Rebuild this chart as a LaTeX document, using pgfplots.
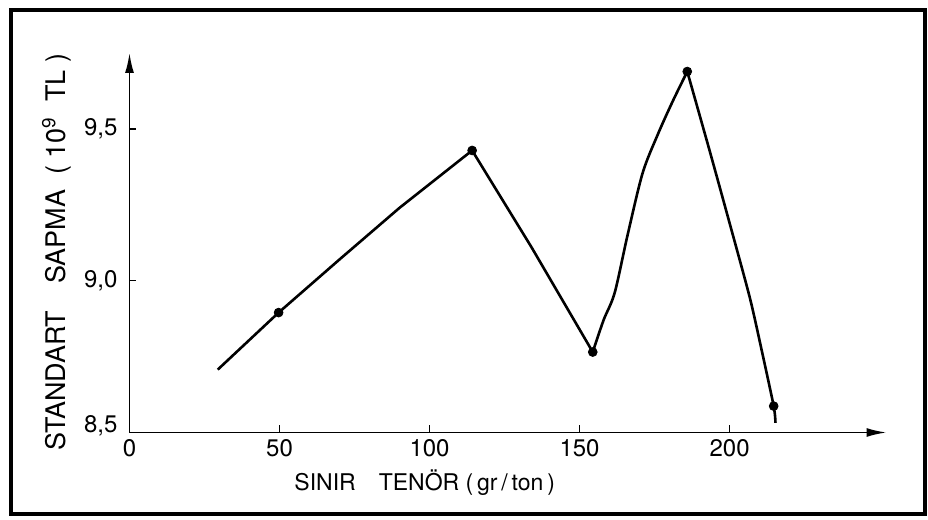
\documentclass[border=0pt]{standalone}
\usepackage{pgfplots}
\pgfplotsset{compat=1.18}
\usetikzlibrary{arrows.meta}
\usepackage{fontspec}
\setmainfont{TeX Gyre Heros}
\begin{document}
\begin{tikzpicture}
\begin{axis}[
    scale only axis,
    width=378.5pt, height=189.75pt,
    xmin=0, xmax=252.3,
    ymin=8.5, ymax=9.75,
    axis lines=left,
    axis line style={line width=0.9pt, -{Latex[length=10pt,width=4.5pt]}},
    xtick={0,50,100,150,200},
    xticklabels={0,50,100,150,200},
    ytick={8.5,9,9.5},
    yticklabels={{\raisebox{9pt}{8,5}},{9,0},{9,5}},
    tick align=inside,
    major tick length=3.5pt,
    tick style={line width=0.8pt, black},
    ticklabel style={font=\fontsize{12}{14}\selectfont},
    yticklabel style={xshift=-2.5pt},
    xlabel={SINIR\quad TENÖR\ (\,gr\,/\,ton\,)},
    ylabel={STANDART\quad SAPMA\ \ ( 10\textsuperscript{9} \ TL )},
    xlabel style={font=\fontsize{11.5}{13}\selectfont, at={(axis description cs:0.39,-0.133)}, anchor=center},
    ylabel style={font=\fontsize{13.5}{15}\selectfont, at={(axis description cs:-0.096,0.475)}, anchor=center},
    clip=false,
]
% curve, in pieces so that the corners stay sharp
\addplot[black, line width=1.3pt, line join=round] coordinates {
    (29.4,8.707)(49.7,8.895)(70,9.07)(90,9.24)(114.2,9.429)
    (134,9.11)(154.4,8.765)
};
\addplot[black, line width=1.3pt, line join=round, smooth, tension=0.5] coordinates {
    (154.4,8.765)(158,8.87)(161.7,8.96)(166,9.15)(171,9.354)
    (176,9.48)(181,9.59)(185.9,9.689)
};
\addplot[black, line width=1.3pt, line join=round, smooth, tension=0.4] coordinates {
    (185.9,9.689)(193.3,9.43)(200,9.19)(206.7,8.946)(210.5,8.78)(214.7,8.587)(215.3,8.532)
};
% measured points
\addplot[only marks, mark=*, mark size=2.2pt, black] coordinates {
    (49.7,8.895)(114.2,9.429)(154.4,8.765)(185.9,9.689)(214.7,8.587)
};
\end{axis}
\draw[line width=2pt] (-59.25pt,-40.75pt) rectangle (397.75pt,211.25pt);
\path (-64.75pt,-43.75pt) rectangle (399.25pt,216.25pt);
\end{tikzpicture}
\end{document}
